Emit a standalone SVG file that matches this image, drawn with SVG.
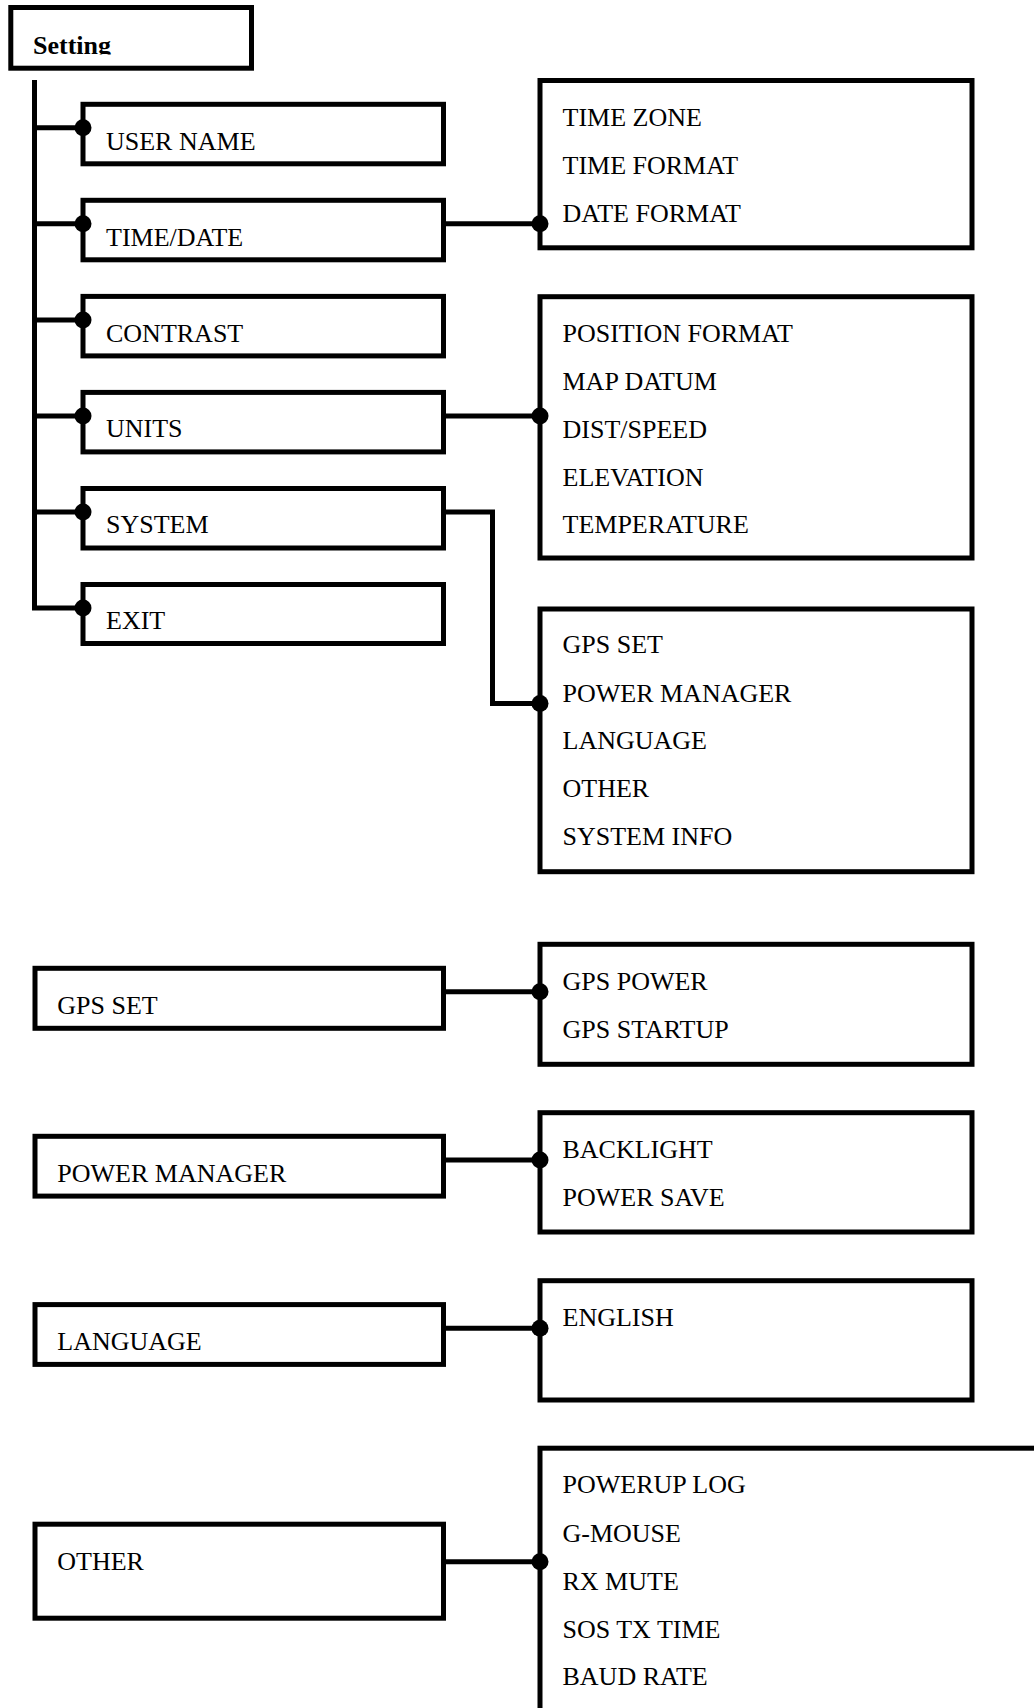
<svg xmlns="http://www.w3.org/2000/svg" width="1034" height="1708" viewBox="0 0 1034 1708">
<style>
.box{fill:#fff;stroke:#000;stroke-width:5}
.t{font-family:"Liberation Serif","Times New Roman",serif;font-size:26px;fill:#000}
.b{font-weight:bold}
.c{fill:none;stroke:#000;stroke-width:5;stroke-linejoin:miter}
.dot{fill:#000}
</style>
<defs>
<clipPath id="clipSetting"><rect x="0" y="0" width="260" height="54.5"/></clipPath>
</defs>
<rect width="1034" height="1708" fill="#fff"/>
<g id="setting">
<rect class="box" x="10.8" y="7.5" width="240.7" height="60.7"/>
<text class="t b" x="33" y="53.5" clip-path="url(#clipSetting)">Setting</text>
</g>
<g id="user-name"><rect class="box" x="83" y="104.3" width="360.5" height="59.5"/><text class="t" x="106" y="149.5">USER NAME</text></g>
<g id="time-date"><rect class="box" x="83" y="200.3" width="360.5" height="59.5"/><text class="t" x="106" y="245.5">TIME/DATE</text></g>
<g id="contrast"><rect class="box" x="83" y="296.4" width="360.5" height="59.5"/><text class="t" x="106" y="341.5">CONTRAST</text></g>
<g id="units"><rect class="box" x="83" y="392.4" width="360.5" height="59.5"/><text class="t" x="106" y="437.3">UNITS</text></g>
<g id="system"><rect class="box" x="83" y="488.5" width="360.5" height="59.5"/><text class="t" x="106" y="533.3">SYSTEM</text></g>
<g id="exit"><rect class="box" x="83" y="584.5" width="360.5" height="59"/><text class="t" x="106" y="629.3">EXIT</text></g>
<g id="time-date-menu"><rect class="box" x="540" y="80.5" width="432" height="167.3"/>
<text class="t" x="562.5" y="125.7">TIME ZONE</text><text class="t" x="562.5" y="174">TIME FORMAT</text><text class="t" x="562.5" y="222">DATE FORMAT</text></g>
<g id="units-menu"><rect class="box" x="540" y="296.7" width="432" height="261.3"/>
<text class="t" x="562.5" y="341.7">POSITION FORMAT</text><text class="t" x="562.5" y="389.8">MAP DATUM</text><text class="t" x="562.5" y="437.7">DIST/SPEED</text><text class="t" x="562.5" y="485.6">ELEVATION</text><text class="t" x="562.5" y="533.3">TEMPERATURE</text></g>
<g id="system-menu"><rect class="box" x="540" y="609" width="432" height="262.7"/>
<text class="t" x="562.5" y="653.3">GPS SET</text><text class="t" x="562.5" y="701.5">POWER MANAGER</text><text class="t" x="562.5" y="749.3">LANGUAGE</text><text class="t" x="562.5" y="797.3">OTHER</text><text class="t" x="562.5" y="845">SYSTEM INFO</text></g>
<g id="gps-set"><rect class="box" x="35" y="968.3" width="408.5" height="60"/><text class="t" x="57.3" y="1014.3">GPS SET</text></g>
<g id="gps-set-menu"><rect class="box" x="540" y="944.3" width="432" height="120"/>
<text class="t" x="562.5" y="990">GPS POWER</text><text class="t" x="562.5" y="1037.7">GPS STARTUP</text></g>
<g id="power-manager"><rect class="box" x="35" y="1136.3" width="408.5" height="59.8"/><text class="t" x="57.3" y="1182.3">POWER MANAGER</text></g>
<g id="power-manager-menu"><rect class="box" x="540" y="1112.7" width="432" height="119.3"/>
<text class="t" x="562.5" y="1158.3">BACKLIGHT</text><text class="t" x="562.5" y="1206">POWER SAVE</text></g>
<g id="language"><rect class="box" x="35" y="1304.6" width="408.5" height="59.8"/><text class="t" x="57.3" y="1350">LANGUAGE</text></g>
<g id="language-menu"><rect class="box" x="540" y="1280.7" width="432" height="119.3"/>
<text class="t" x="562.5" y="1326">ENGLISH</text></g>
<g id="other"><rect class="box" x="35" y="1524.2" width="408.5" height="94"/><text class="t" x="57.3" y="1570">OTHER</text></g>
<g id="other-menu"><rect class="box" x="540" y="1448.2" width="520" height="300"/>
<text class="t" x="562.5" y="1493.3">POWERUP LOG</text><text class="t" x="562.5" y="1541.7">G-MOUSE</text><text class="t" x="562.5" y="1590">RX MUTE</text><text class="t" x="562.5" y="1637.7">SOS TX TIME</text><text class="t" x="562.5" y="1685">BAUD RATE</text></g>
<g id="connectors">
<path class="c" d="M34.5 80 V608 H83"/>
<path class="c" d="M34.5 127.8 H83 M34.5 223.8 H83 M34.5 319.9 H83 M34.5 415.9 H83 M34.5 512 H83"/>
<path class="c" d="M443.5 223.8 H540"/>
<path class="c" d="M443.5 415.9 H540"/>
<path class="c" d="M443.5 512 H492.5 V703.5 H540"/>
<path class="c" d="M443.5 991.7 H540"/>
<path class="c" d="M443.5 1160 H540"/>
<path class="c" d="M443.5 1328.3 H540"/>
<path class="c" d="M443.5 1561.7 H540"/>
<circle class="dot" cx="83" cy="127.8" r="8.5"/>
<circle class="dot" cx="83" cy="223.8" r="8.5"/>
<circle class="dot" cx="83" cy="319.9" r="8.5"/>
<circle class="dot" cx="83" cy="415.9" r="8.5"/>
<circle class="dot" cx="83" cy="512" r="8.5"/>
<circle class="dot" cx="83" cy="608" r="8.5"/>
<circle class="dot" cx="540" cy="223.8" r="8.5"/>
<circle class="dot" cx="540" cy="415.9" r="8.5"/>
<circle class="dot" cx="540" cy="703.5" r="8.5"/>
<circle class="dot" cx="540" cy="991.7" r="8.5"/>
<circle class="dot" cx="540" cy="1160" r="8.5"/>
<circle class="dot" cx="540" cy="1328.3" r="8.5"/>
<circle class="dot" cx="540" cy="1561.7" r="8.5"/>
</g>
</svg>
